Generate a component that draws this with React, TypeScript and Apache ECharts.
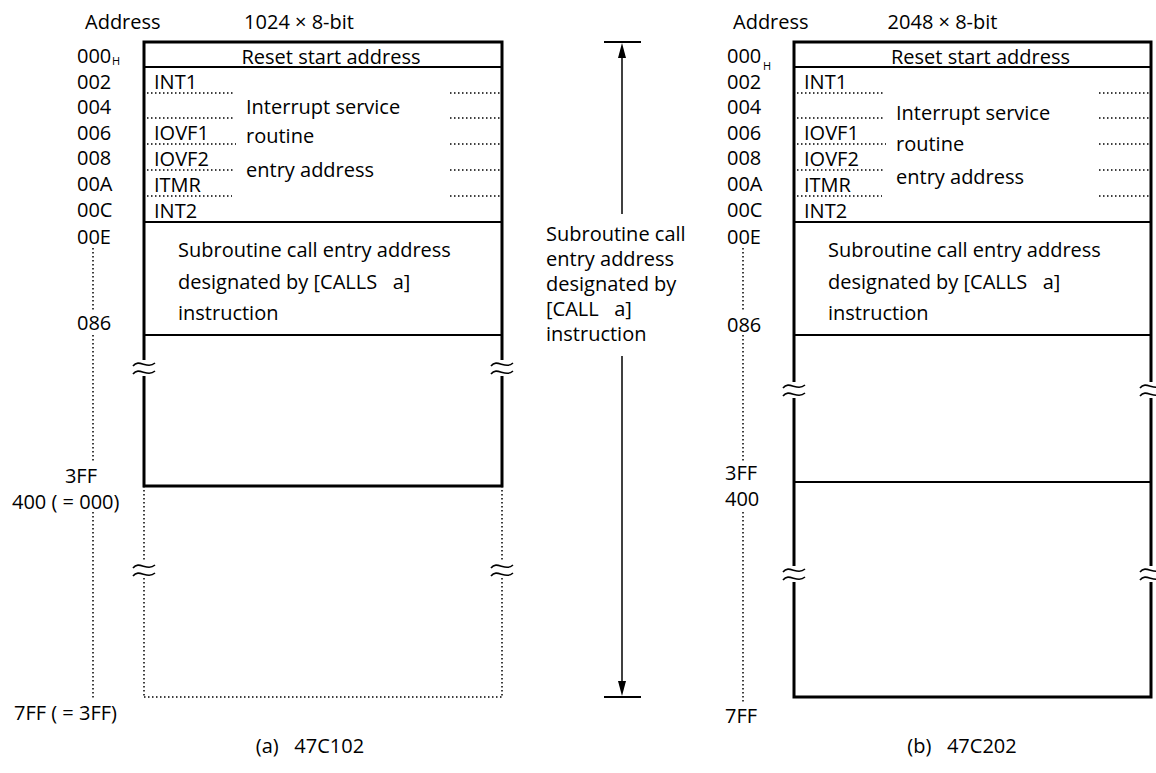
import React, { useEffect, useRef } from "react";
import * as echarts from "echarts";

// ---- data ----
const addrTopRows = ["000", "002", "004", "006", "008", "00A", "00C", "00E"];
const interruptNames = ["INT1", "", "IOVF1", "IOVF2", "ITMR", "INT2"];
const interruptText = ["Interrupt service", "routine", "entry address"];
const subroutineText = ["Subroutine call entry address", "designated by [CALLS   a]", "instruction"];
const callText = ["Subroutine call", "entry address", "designated by", "[CALL   a]", "instruction"];
const panelA = { title: "1024 \u00d7 8-bit", caption: "(a)   47C102", lowLabels: ["086", "3FF", "400 ( = 000)", "7FF ( = 3FF)"] };
const panelB = { title: "2048 \u00d7 8-bit", caption: "(b)   47C202", lowLabels: ["086", "3FF", "400", "7FF"] };

const FONT = "Open Sans";
const FS = 20;
const BLACK = "#000";

function txt(x: number, y: number, s: string, opts: any = {}) {
  const size = opts.size || FS;
  return {
    type: "text",
    x,
    y,
    style: {
      text: s,
      fill: BLACK,
      fontFamily: FONT,
      fontSize: size,
      align: opts.align || "left",
      verticalAlign: "middle",
    },
  };
}
function ln(x1: number, y1: number, x2: number, y2: number, w = 1.5, dash?: number[]) {
  return {
    type: "line",
    shape: { x1, y1, x2, y2 },
    style: { stroke: BLACK, lineWidth: w, lineDash: dash || null, lineCap: "butt" },
  };
}
const DOT = [1.5, 2.5];
function squiggle(x: number, y: number) {
  const out: any[] = [];
  out.push({ type: "rect", shape: { x: x - 3, y: y - 8, width: 6, height: 16 }, style: { fill: "#fff" } });
  for (const dy of [-4, 4]) {
    out.push({
      type: "bezierCurve",
      shape: { x1: x - 11, y1: y + dy + 2, cpx1: x - 5, cpy1: y + dy - 6, cpx2: x + 3, cpy2: y + dy + 6, x2: x + 11, y2: y + dy - 1 },
      style: { stroke: BLACK, lineWidth: 1.6, fill: null },
    });
  }
  return out;
}

function panel(p: any, L: number, R: number, labX: number, dotX: number, isA: boolean) {
  const els: any[] = [];
  const top = 42;
  const rowY = [55, 81, 106, 132, 157, 183, 209, 236];
  els.push(txt(labX + (isA ? 8 : 6), 21, "Address"));
  els.push(txt((L + R) / 2 - (isA ? 24 : 30), 21, p.title, { align: "center" }));
  addrTopRows.forEach((a, i) => {
    els.push(txt(labX, rowY[i], a));
  });
  els.push(txt(labX + (isA ? 35 : 36), rowY[0] + (isA ? 5 : 10), "H", { size: 11 }));
  // reset
  els.push(txt((L + R) / 2 + 8, 56, "Reset start address", { align: "center" }));
  els.push(ln(L, 67, R, 67, 2));
  // interrupt
  const nameY = [81, 0, 132, 158, 184, 210];
  interruptNames.forEach((n, i) => {
    if (n) els.push(txt(L + 10, nameY[i], n));
  });
  const dotYs = [93, 118, 144, 170, 196];
  const ldEnd = [L + 90, L + 90, L + 92, L + 90, L + 88];
  dotYs.forEach((y, i) => {
    els.push(ln(L + 3, y, ldEnd[i], y, 1.5, DOT));
    els.push(ln(R - 52, y, R - 2, y, 1.5, DOT));
  });
  const itY = isA ? [106, 135, 169] : [112, 143, 176];
  interruptText.forEach((t, i) => els.push(txt(L + 102, itY[i], t)));
  els.push(ln(L, 222, R, 222, 2));
  // subroutine
  [249, 281, 312].forEach((y, i) => els.push(txt(L + 34, y, subroutineText[i])));
  els.push(ln(L, 335, R, 335, 2));
  // low labels
  if (isA) {
    els.push(txt(labX, 322, p.lowLabels[0]));
    els.push(txt(97, 475, p.lowLabels[1], { align: "right" }));
    els.push(txt(12, 501, p.lowLabels[2]));
    els.push(txt(14, 712, p.lowLabels[3]));
  } else {
    els.push(txt(labX, 324, p.lowLabels[0]));
    els.push(txt(labX - 2, 472, p.lowLabels[1]));
    els.push(txt(labX - 2, 498, p.lowLabels[2]));
    els.push(txt(labX - 2, 715, p.lowLabels[3]));
  }
  // address dotted lines
  els.push(ln(dotX, 248, dotX, 310, 1.5, DOT));
  els.push(ln(dotX, 335, dotX, 463, 1.5, DOT));
  els.push(ln(dotX, 512, dotX, isA ? 698 : 702, 1.5, DOT));
  // box
  if (isA) {
    els.push(ln(L, 486, L, 697, 1.5, DOT));
    els.push(ln(R, 486, R, 697, 1.5, DOT));
    els.push(ln(L, 697, R, 697, 1.5, DOT));
    els.push({ type: "rect", shape: { x: L, y: top, width: R - L, height: 486 - top }, style: { fill: null, stroke: BLACK, lineWidth: 3 } });
    els.push(...squiggle(L, 368), ...squiggle(R, 368), ...squiggle(L, 570), ...squiggle(R, 570));
  } else {
    els.push(ln(L, 482, R, 482, 2));
    els.push({ type: "rect", shape: { x: L, y: top, width: R - L, height: 697 - top }, style: { fill: null, stroke: BLACK, lineWidth: 3 } });
    els.push(...squiggle(L, 390), ...squiggle(R, 390), ...squiggle(L, 574), ...squiggle(R, 574));
  }
  els.push(txt(isA ? 310 : 962, 745, p.caption, { align: "center" }));
  return els;
}

function center() {
  const els: any[] = [];
  const x = 622;
  els.push(ln(x - 18, 42, x + 19, 42, 1.8));
  els.push(ln(x - 18, 697, x + 19, 697, 1.8));
  els.push(ln(x, 50, x, 214, 1.5));
  els.push(ln(x, 356, x, 690, 1.5));
  els.push({ type: "polygon", shape: { points: [[x, 43], [x - 4, 58], [x + 4, 58]] }, style: { fill: BLACK } });
  els.push({ type: "polygon", shape: { points: [[x, 696], [x - 4, 681], [x + 4, 681]] }, style: { fill: BLACK } });
  const ys = [233, 258, 283, 308, 333];
  callText.forEach((t, i) => els.push(txt(546, ys[i], t)));
  return els;
}

export default function App() {
  const ref = useRef<HTMLDivElement>(null);
  useEffect(() => {
    if (!ref.current) return;
    const chart = echarts.init(ref.current, null, { renderer: "svg" });
    const elements = [
      ...panel(panelA, 144, 502, 77, 93, true),
      ...panel(panelB, 794, 1151, 727, 743, false),
      ...center(),
    ];
    chart.setOption({
      animation: false,
      backgroundColor: "#fff",
      graphic: { elements },
    });
    return () => chart.dispose();
  }, []);
  return <div ref={ref} style={{ width: 1156, height: 773, position: "absolute", left: 0, top: 0 }} />;
}
